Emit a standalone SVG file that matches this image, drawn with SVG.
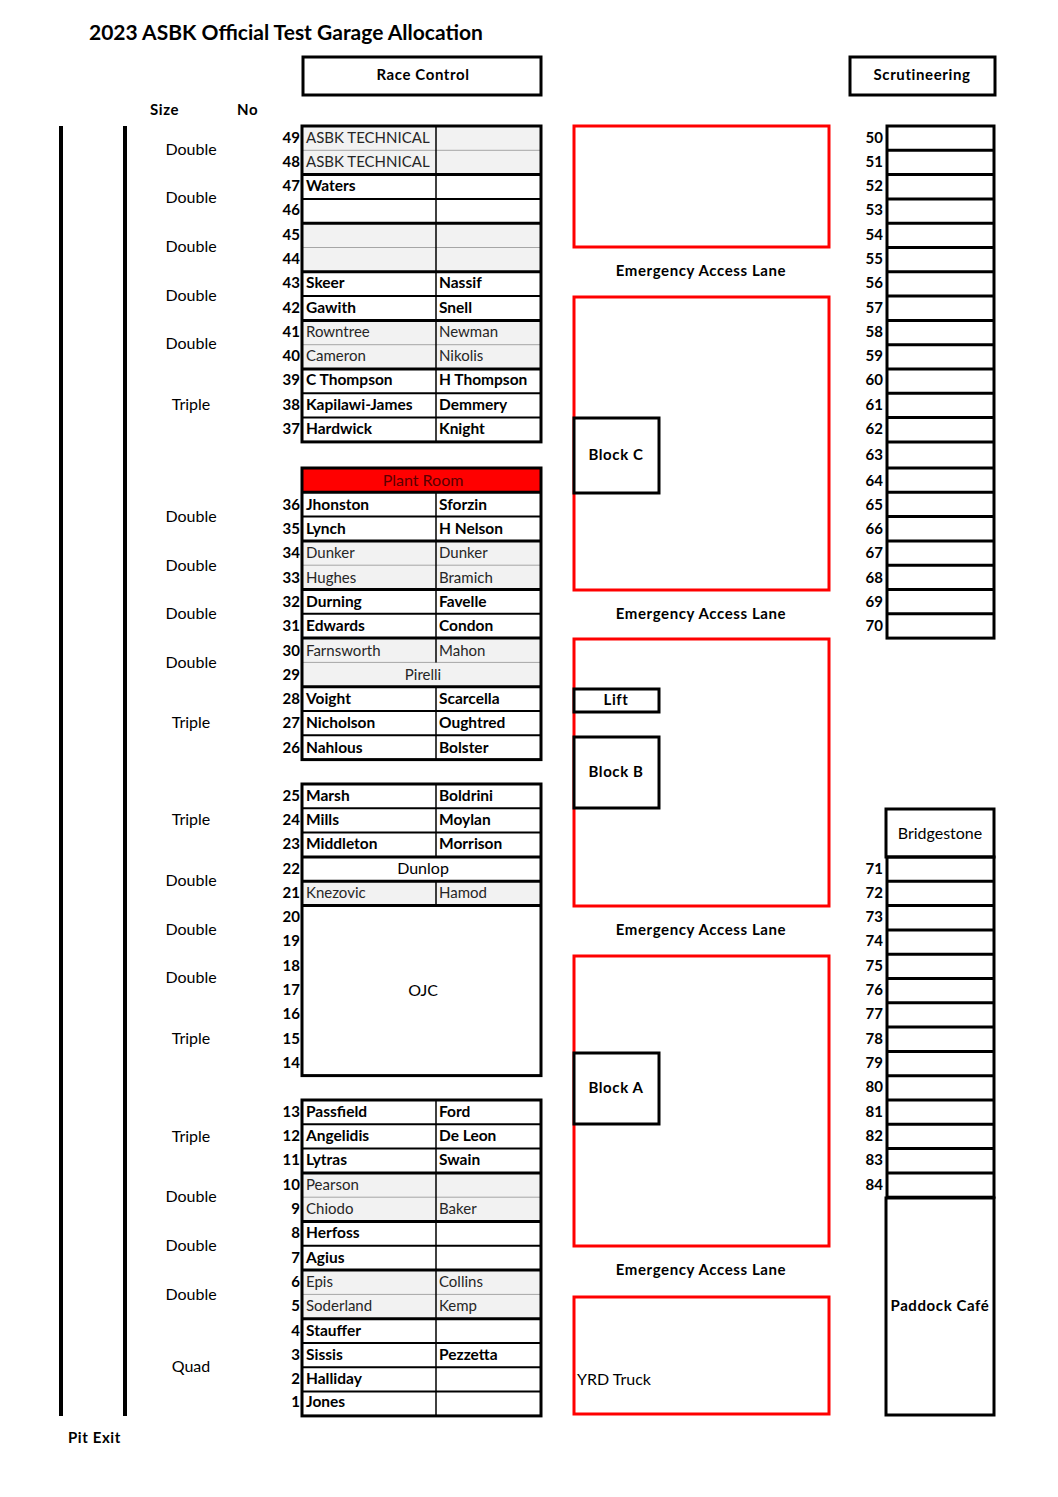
<svg xmlns="http://www.w3.org/2000/svg" width="1058" height="1497" viewBox="0 0 1058 1497">
<style>
text{font-family:Lato,"Liberation Sans",sans-serif;fill:#000}
.title{font-size:21px;font-weight:bold}
.hd{font-size:15px;font-weight:bold;letter-spacing:0.6px}
.num{font-size:15px;font-weight:bold;text-anchor:end}
.b{font-size:15.5px;font-weight:bold}
.g{font-size:15px;fill:#262626}
.r{font-size:16px}
.c{text-anchor:middle}
.sz{font-size:16px;text-anchor:middle}
.thick{stroke:#000;stroke-width:3;fill:none}
.med{stroke:#000;stroke-width:2}
.thin{stroke:#a6a6a6;stroke-width:1}
.gr{fill:#f2f2f2}
.red{stroke:#ff0000;stroke-width:3;fill:none}
.blk{stroke:#000;stroke-width:3;fill:#fff}
.div{stroke:#000;stroke-width:1.5}
</style>
<rect width="1058" height="1497" fill="#fff"/>
<text class="title" x="89" y="40">2023 ASBK Official Test Garage Allocation</text>

<g id="race-control"><rect class="thick" x="303" y="57" width="238" height="38"/><text class="hd c" x="423" y="80">Race Control</text></g>
<g id="scrutineering"><rect class="thick" x="850" y="57" width="145" height="38"/><text class="hd c" x="922" y="80">Scrutineering</text></g>

<g id="headers"><text class="hd" x="150" y="115">Size</text><text class="hd" x="237" y="115">No</text></g>

<g id="pit-lane">
<line x1="61" y1="126" x2="61" y2="1416" stroke="#000" stroke-width="4"/>
<line x1="125" y1="126" x2="125" y2="1416" stroke="#000" stroke-width="4"/>
<text class="hd" x="68" y="1443">Pit Exit</text>
</g>

<g id="sizes">
<text class="sz" x="191" y="155">Double</text>
<text class="sz" x="191" y="203">Double</text>
<text class="sz" x="191" y="252">Double</text>
<text class="sz" x="191" y="301">Double</text>
<text class="sz" x="191" y="349">Double</text>
<text class="sz" x="191" y="410">Triple</text>
<text class="sz" x="191" y="522">Double</text>
<text class="sz" x="191" y="571">Double</text>
<text class="sz" x="191" y="619">Double</text>
<text class="sz" x="191" y="668">Double</text>
<text class="sz" x="191" y="728">Triple</text>
<text class="sz" x="191" y="825">Triple</text>
<text class="sz" x="191" y="886">Double</text>
<text class="sz" x="191" y="935">Double</text>
<text class="sz" x="191" y="983">Double</text>
<text class="sz" x="191" y="1044">Triple</text>
<text class="sz" x="191" y="1142">Triple</text>
<text class="sz" x="191" y="1202">Double</text>
<text class="sz" x="191" y="1251">Double</text>
<text class="sz" x="191" y="1300">Double</text>
<text class="sz" x="191" y="1372">Quad</text>
</g>

<g id="block-49-37">
<rect class="gr" x="302" y="126" width="239" height="48.6"/>
<rect class="gr" x="302" y="223.2" width="239" height="48.6"/>
<rect class="gr" x="302" y="320.4" width="239" height="48.6"/>
<line class="thin" x1="302" y1="150.3" x2="541" y2="150.3"/>
<line class="med" x1="302" y1="198.9" x2="541" y2="198.9"/>
<line class="thin" x1="302" y1="247.5" x2="541" y2="247.5"/>
<line class="med" x1="302" y1="296.1" x2="541" y2="296.1"/>
<line class="thin" x1="302" y1="344.7" x2="541" y2="344.7"/>
<line class="med" x1="302" y1="393.3" x2="541" y2="393.3"/>
<line class="med" x1="302" y1="417.6" x2="541" y2="417.6"/>
<line class="div" x1="436" y1="126" x2="436" y2="442"/>
<line class="thick" x1="302" y1="174.6" x2="541" y2="174.6"/>
<line class="thick" x1="302" y1="223.2" x2="541" y2="223.2"/>
<line class="thick" x1="302" y1="271.8" x2="541" y2="271.8"/>
<line class="thick" x1="302" y1="320.4" x2="541" y2="320.4"/>
<line class="thick" x1="302" y1="369" x2="541" y2="369"/>
<rect class="thick" x="302" y="126" width="239" height="315.9"/>
<text class="num" x="300" y="143">49</text><text class="g" x="306" y="143">ASBK TECHNICAL</text>
<text class="num" x="300" y="167">48</text><text class="g" x="306" y="167">ASBK TECHNICAL</text>
<text class="num" x="300" y="191">47</text><text class="b" x="306" y="191">Waters</text>
<text class="num" x="300" y="215">46</text>
<text class="num" x="300" y="240">45</text>
<text class="num" x="300" y="264">44</text>
<text class="num" x="300" y="288">43</text><text class="b" x="306" y="288">Skeer</text><text class="b" x="439" y="288">Nassif</text>
<text class="num" x="300" y="313">42</text><text class="b" x="306" y="313">Gawith</text><text class="b" x="439" y="313">Snell</text>
<text class="num" x="300" y="337">41</text><text class="g" x="306" y="337">Rowntree</text><text class="g" x="439" y="337">Newman</text>
<text class="num" x="300" y="361">40</text><text class="g" x="306" y="361">Cameron</text><text class="g" x="439" y="361">Nikolis</text>
<text class="num" x="300" y="385">39</text><text class="b" x="306" y="385">C Thompson</text><text class="b" x="439" y="385">H Thompson</text>
<text class="num" x="300" y="410">38</text><text class="b" x="306" y="410">Kapilawi-James</text><text class="b" x="439" y="410">Demmery</text>
<text class="num" x="300" y="434">37</text><text class="b" x="306" y="434">Hardwick</text><text class="b" x="439" y="434">Knight</text>
</g>

<g id="block-36-26">
<rect x="302" y="468" width="239" height="24.3" fill="#ff0000"/>
<rect class="gr" x="302" y="540.9" width="239" height="48.6"/>
<rect class="gr" x="302" y="638.1" width="239" height="48.6"/>
<line class="med" x1="302" y1="516.6" x2="541" y2="516.6"/>
<line class="thin" x1="302" y1="565.2" x2="541" y2="565.2"/>
<line class="med" x1="302" y1="613.8" x2="541" y2="613.8"/>
<line class="thin" x1="302" y1="662.4" x2="541" y2="662.4"/>
<line class="med" x1="302" y1="711" x2="541" y2="711"/>
<line class="med" x1="302" y1="735.3" x2="541" y2="735.3"/>
<line class="div" x1="436" y1="492.3" x2="436" y2="662.4"/>
<line class="div" x1="436" y1="686.7" x2="436" y2="759.6"/>
<line class="thick" x1="302" y1="492.3" x2="541" y2="492.3"/>
<line class="thick" x1="302" y1="540.9" x2="541" y2="540.9"/>
<line class="thick" x1="302" y1="589.5" x2="541" y2="589.5"/>
<line class="thick" x1="302" y1="638.1" x2="541" y2="638.1"/>
<line class="thick" x1="302" y1="686.7" x2="541" y2="686.7"/>
<rect class="thick" x="302" y="468" width="239" height="291.6"/>
<text class="c" x="423" y="486" style="font-size:16px;fill:#5a0000">Plant Room</text>
<text class="num" x="300" y="510">36</text><text class="b" x="306" y="510">Jhonston</text><text class="b" x="439" y="510">Sforzin</text>
<text class="num" x="300" y="534">35</text><text class="b" x="306" y="534">Lynch</text><text class="b" x="439" y="534">H Nelson</text>
<text class="num" x="300" y="558">34</text><text class="g" x="306" y="558">Dunker</text><text class="g" x="439" y="558">Dunker</text>
<text class="num" x="300" y="583">33</text><text class="g" x="306" y="583">Hughes</text><text class="g" x="439" y="583">Bramich</text>
<text class="num" x="300" y="607">32</text><text class="b" x="306" y="607">Durning</text><text class="b" x="439" y="607">Favelle</text>
<text class="num" x="300" y="631">31</text><text class="b" x="306" y="631">Edwards</text><text class="b" x="439" y="631">Condon</text>
<text class="num" x="300" y="656">30</text><text class="g" x="306" y="656">Farnsworth</text><text class="g" x="439" y="656">Mahon</text>
<text class="num" x="300" y="680">29</text><text class="g c" x="423" y="680">Pirelli</text>
<text class="num" x="300" y="704">28</text><text class="b" x="306" y="704">Voight</text><text class="b" x="439" y="704">Scarcella</text>
<text class="num" x="300" y="728">27</text><text class="b" x="306" y="728">Nicholson</text><text class="b" x="439" y="728">Oughtred</text>
<text class="num" x="300" y="753">26</text><text class="b" x="306" y="753">Nahlous</text><text class="b" x="439" y="753">Bolster</text>
</g>

<g id="block-25-14">
<rect class="gr" x="302" y="881.2" width="239" height="24.3"/>
<line class="med" x1="302" y1="808.3" x2="541" y2="808.3"/>
<line class="med" x1="302" y1="832.6" x2="541" y2="832.6"/>
<line class="div" x1="436" y1="784" x2="436" y2="856.9"/>
<line class="div" x1="436" y1="881.2" x2="436" y2="905.5"/>
<line class="thick" x1="302" y1="856.9" x2="541" y2="856.9"/>
<line class="thick" x1="302" y1="881.2" x2="541" y2="881.2"/>
<line class="thick" x1="302" y1="905.5" x2="541" y2="905.5"/>
<rect class="thick" x="302" y="784" width="239" height="291.6"/>
<text class="num" x="300" y="801">25</text><text class="b" x="306" y="801">Marsh</text><text class="b" x="439" y="801">Boldrini</text>
<text class="num" x="300" y="825">24</text><text class="b" x="306" y="825">Mills</text><text class="b" x="439" y="825">Moylan</text>
<text class="num" x="300" y="849">23</text><text class="b" x="306" y="849">Middleton</text><text class="b" x="439" y="849">Morrison</text>
<text class="num" x="300" y="874">22</text><text class="r c" x="423" y="874">Dunlop</text>
<text class="num" x="300" y="898">21</text><text class="g" x="306" y="898">Knezovic</text><text class="g" x="439" y="898">Hamod</text>
<text class="num" x="300" y="922">20</text>
<text class="num" x="300" y="946">19</text>
<text class="num" x="300" y="971">18</text>
<text class="num" x="300" y="995">17</text>
<text class="num" x="300" y="1019">16</text>
<text class="num" x="300" y="1044">15</text>
<text class="num" x="300" y="1068">14</text>
<text class="r c" x="423" y="996">OJC</text>
</g>

<g id="block-13-1">
<rect class="gr" x="302" y="1172.9" width="239" height="48.6"/>
<rect class="gr" x="302" y="1270.1" width="239" height="48.6"/>
<line class="med" x1="302" y1="1124.3" x2="541" y2="1124.3"/>
<line class="med" x1="302" y1="1148.6" x2="541" y2="1148.6"/>
<line class="thin" x1="302" y1="1197.2" x2="541" y2="1197.2"/>
<line class="med" x1="302" y1="1245.8" x2="541" y2="1245.8"/>
<line class="thin" x1="302" y1="1294.4" x2="541" y2="1294.4"/>
<line class="med" x1="302" y1="1343" x2="541" y2="1343"/>
<line class="med" x1="302" y1="1367.3" x2="541" y2="1367.3"/>
<line class="med" x1="302" y1="1391.6" x2="541" y2="1391.6"/>
<line class="div" x1="436" y1="1100" x2="436" y2="1416"/>
<line class="thick" x1="302" y1="1172.9" x2="541" y2="1172.9"/>
<line class="thick" x1="302" y1="1221.5" x2="541" y2="1221.5"/>
<line class="thick" x1="302" y1="1270.1" x2="541" y2="1270.1"/>
<line class="thick" x1="302" y1="1318.7" x2="541" y2="1318.7"/>
<rect class="thick" x="302" y="1100" width="239" height="315.9"/>
<text class="num" x="300" y="1117">13</text><text class="b" x="306" y="1117">Passfield</text><text class="b" x="439" y="1117">Ford</text>
<text class="num" x="300" y="1141">12</text><text class="b" x="306" y="1141">Angelidis</text><text class="b" x="439" y="1141">De Leon</text>
<text class="num" x="300" y="1165">11</text><text class="b" x="306" y="1165">Lytras</text><text class="b" x="439" y="1165">Swain</text>
<text class="num" x="300" y="1190">10</text><text class="g" x="306" y="1190">Pearson</text>
<text class="num" x="300" y="1214">9</text><text class="g" x="306" y="1214">Chiodo</text><text class="g" x="439" y="1214">Baker</text>
<text class="num" x="300" y="1238">8</text><text class="b" x="306" y="1238">Herfoss</text>
<text class="num" x="300" y="1263">7</text><text class="b" x="306" y="1263">Agius</text>
<text class="num" x="300" y="1287">6</text><text class="g" x="306" y="1287">Epis</text><text class="g" x="439" y="1287">Collins</text>
<text class="num" x="300" y="1311">5</text><text class="g" x="306" y="1311">Soderland</text><text class="g" x="439" y="1311">Kemp</text>
<text class="num" x="300" y="1336">4</text><text class="b" x="306" y="1336">Stauffer</text>
<text class="num" x="300" y="1360">3</text><text class="b" x="306" y="1360">Sissis</text><text class="b" x="439" y="1360">Pezzetta</text>
<text class="num" x="300" y="1384">2</text><text class="b" x="306" y="1384">Halliday</text>
<text class="num" x="300" y="1407">1</text><text class="b" x="306" y="1407">Jones</text>
</g>

<g id="middle-area">
<rect class="red" x="574" y="126" width="255" height="121"/>
<text class="hd c" x="701" y="276">Emergency Access Lane</text>
<rect class="red" x="574" y="297" width="255" height="293"/>
<text class="hd c" x="701" y="619">Emergency Access Lane</text>
<rect class="red" x="574" y="639" width="255" height="267"/>
<text class="hd c" x="701" y="935">Emergency Access Lane</text>
<rect class="red" x="574" y="956" width="255" height="290"/>
<text class="hd c" x="701" y="1275">Emergency Access Lane</text>
<rect class="red" x="574" y="1297" width="255" height="117"/>
<text class="r" x="577" y="1385">YRD Truck</text>
</g>
<g id="block-c"><rect class="blk" x="574" y="418" width="85" height="75"/><text class="hd c" x="616" y="460">Block C</text></g>
<g id="lift"><rect class="blk" x="574" y="689" width="85" height="23"/><text class="hd c" x="616" y="705">Lift</text></g>
<g id="block-b"><rect class="blk" x="574" y="737" width="85" height="71"/><text class="hd c" x="616" y="777">Block B</text></g>
<g id="block-a"><rect class="blk" x="574" y="1053" width="85" height="71"/><text class="hd c" x="616" y="1093">Block A</text></g>

<g id="right-50-70">
<line class="thick" x1="887" y1="150.3" x2="994" y2="150.3"/>
<line class="thick" x1="887" y1="174.6" x2="994" y2="174.6"/>
<line class="thick" x1="887" y1="198.9" x2="994" y2="198.9"/>
<line class="thick" x1="887" y1="223.2" x2="994" y2="223.2"/>
<line class="thick" x1="887" y1="247.5" x2="994" y2="247.5"/>
<line class="thick" x1="887" y1="271.8" x2="994" y2="271.8"/>
<line class="thick" x1="887" y1="296.1" x2="994" y2="296.1"/>
<line class="thick" x1="887" y1="320.4" x2="994" y2="320.4"/>
<line class="thick" x1="887" y1="344.7" x2="994" y2="344.7"/>
<line class="thick" x1="887" y1="369" x2="994" y2="369"/>
<line class="thick" x1="887" y1="393.3" x2="994" y2="393.3"/>
<line class="thick" x1="887" y1="417.6" x2="994" y2="417.6"/>
<line class="thick" x1="887" y1="441.9" x2="994" y2="441.9"/>
<line class="thick" x1="887" y1="468" x2="994" y2="468"/>
<line class="thick" x1="887" y1="492.3" x2="994" y2="492.3"/>
<line class="thick" x1="887" y1="516.6" x2="994" y2="516.6"/>
<line class="thick" x1="887" y1="540.9" x2="994" y2="540.9"/>
<line class="thick" x1="887" y1="565.2" x2="994" y2="565.2"/>
<line class="thick" x1="887" y1="589.5" x2="994" y2="589.5"/>
<line class="thick" x1="887" y1="613.8" x2="994" y2="613.8"/>
<rect class="thick" x="887" y="126" width="107" height="512.1"/>
<text class="num" x="883" y="143">50</text>
<text class="num" x="883" y="167">51</text>
<text class="num" x="883" y="191">52</text>
<text class="num" x="883" y="215">53</text>
<text class="num" x="883" y="240">54</text>
<text class="num" x="883" y="264">55</text>
<text class="num" x="883" y="288">56</text>
<text class="num" x="883" y="313">57</text>
<text class="num" x="883" y="337">58</text>
<text class="num" x="883" y="361">59</text>
<text class="num" x="883" y="385">60</text>
<text class="num" x="883" y="410">61</text>
<text class="num" x="883" y="434">62</text>
<text class="num" x="883" y="460">63</text>
<text class="num" x="883" y="486">64</text>
<text class="num" x="883" y="510">65</text>
<text class="num" x="883" y="534">66</text>
<text class="num" x="883" y="558">67</text>
<text class="num" x="883" y="583">68</text>
<text class="num" x="883" y="607">69</text>
<text class="num" x="883" y="631">70</text>
</g>

<g id="bridgestone"><rect class="thick" x="886" y="809" width="108" height="48"/><text class="r c" x="940" y="839">Bridgestone</text></g>

<g id="right-71-84">
<line class="thick" x1="887" y1="881.3" x2="994" y2="881.3"/>
<line class="thick" x1="887" y1="905.6" x2="994" y2="905.6"/>
<line class="thick" x1="887" y1="929.9" x2="994" y2="929.9"/>
<line class="thick" x1="887" y1="954.2" x2="994" y2="954.2"/>
<line class="thick" x1="887" y1="978.5" x2="994" y2="978.5"/>
<line class="thick" x1="887" y1="1002.8" x2="994" y2="1002.8"/>
<line class="thick" x1="887" y1="1027.1" x2="994" y2="1027.1"/>
<line class="thick" x1="887" y1="1051.4" x2="994" y2="1051.4"/>
<line class="thick" x1="887" y1="1075.7" x2="994" y2="1075.7"/>
<line class="thick" x1="887" y1="1100" x2="994" y2="1100"/>
<line class="thick" x1="887" y1="1124.3" x2="994" y2="1124.3"/>
<line class="thick" x1="887" y1="1148.6" x2="994" y2="1148.6"/>
<line class="thick" x1="887" y1="1172.9" x2="994" y2="1172.9"/>
<rect class="thick" x="887" y="857" width="107" height="340.2"/>
<text class="num" x="883" y="874">71</text>
<text class="num" x="883" y="898">72</text>
<text class="num" x="883" y="922">73</text>
<text class="num" x="883" y="946">74</text>
<text class="num" x="883" y="971">75</text>
<text class="num" x="883" y="995">76</text>
<text class="num" x="883" y="1019">77</text>
<text class="num" x="883" y="1044">78</text>
<text class="num" x="883" y="1068">79</text>
<text class="num" x="883" y="1092">80</text>
<text class="num" x="883" y="1117">81</text>
<text class="num" x="883" y="1141">82</text>
<text class="num" x="883" y="1165">83</text>
<text class="num" x="883" y="1190">84</text>
</g>

<g id="paddock-cafe"><rect class="thick" x="886" y="1198" width="108" height="217"/><text class="hd c" x="940" y="1311">Paddock Café</text></g>
</svg>
